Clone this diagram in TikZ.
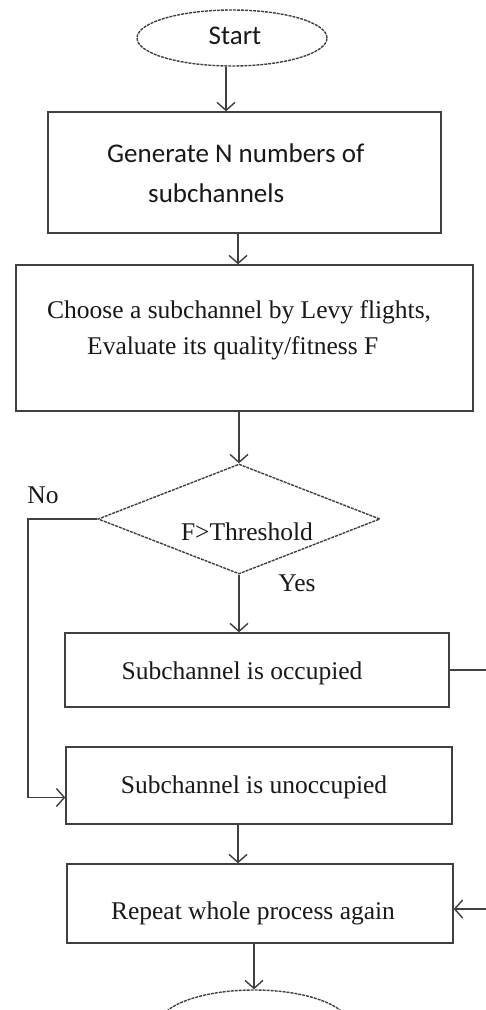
\documentclass[tikz,border=0pt]{standalone}
\usepackage{fontspec}
\setmainfont{Liberation Serif}
\newfontfamily\calib{Carlito}
\usetikzlibrary{shapes.geometric,arrows.meta,calc}
\tikzset{
  lc/.style={draw=black!75, line width=1.4pt},
  boxnode/.style={lc, rectangle, inner sep=0pt},
  arr/.style={lc, -{Straight Barb[length=8pt,width=18pt,line width=1.4pt]}},
  txt/.style={font=\fontsize{25.5}{30}\selectfont, text=black!90, inner sep=0pt},
  ctxt/.style={font=\calib\fontsize{27}{31}\selectfont, text=black!90, inner sep=0pt},
  dsh/.style={dash pattern=on 3pt off 1pt},
}
\begin{document}
\begin{tikzpicture}[x=1pt,y=-1pt]
\clip (0,0) rectangle (486,1010);
\fill[white] (0,0) rectangle (486,1010);
% nodes
\node[lc, dsh, ellipse, minimum width=190pt, minimum height=56pt, inner sep=0pt] (start) at (232,38) {};
\node[ctxt] (starttxt) at (235,36) {Start};
\node[boxnode, minimum width=393pt, minimum height=121pt] (b1) at (244.5,172.5) {};
\node[ctxt, anchor=west] (b1a) at (107,153) {Generate N numbers of};
\node[ctxt, anchor=west] (b1b) at (148,193) {subchannels};
\node[boxnode, minimum width=457pt, minimum height=146pt] (b2) at (244.5,338) {};
\node[txt, anchor=west] (b2a) at (47,312) {Choose a subchannel by Levy flights,};
\node[txt, anchor=west] (b2b) at (87,348) {Evaluate its quality/fitness F};
\node[lc, dsh, diamond, minimum width=282pt, minimum height=110pt, inner sep=0pt] (dec) at (239,519) {};
\node[txt] (dectxt) at (247,532) {F>Threshold};
\node[txt] (no) at (43,495) {No};
\node[txt] (yes) at (297,583) {Yes};
\node[boxnode, minimum width=384pt, minimum height=74pt] (b3) at (257,670) {};
\node[txt] (b3t) at (242,673) {Subchannel is occupied};
\node[boxnode, minimum width=386pt, minimum height=77pt] (b4) at (259,785.5) {};
\node[txt] (b4t) at (254,787) {Subchannel is unoccupied};
\node[boxnode, minimum width=386pt, minimum height=79pt] (b5) at (260,903.5) {};
\node[txt] (b5t) at (253,913) {Repeat whole process again};
\node[lc, dsh, ellipse, minimum width=190pt, minimum height=70pt, inner sep=0pt] (stop) at (254,1025) {};
\coordinate (rt) at (495,670);
\coordinate (no1) at (28,519);
% connectors
\draw[arr] ([xshift=-6pt]start.south) -- ([xshift=-6pt]start.south |- b1.north);
\draw[arr] ([xshift=-6.5pt]b1.south) -- ([xshift=-6.5pt]b1.south |- b2.north);
\draw[arr] (dec.north |- b2.south) -- (dec.north);
\draw[arr] (dec.south) -- (dec.south |- b3.north);
\draw[arr] (dec.west) -- (no1) |- ([yshift=-12pt]b4.west);
\draw[arr] ([xshift=-21pt]b4.south) -- ([xshift=-21pt]b4.south |- b5.north);
\draw[arr] ([xshift=-6pt]b5.south) -- ([xshift=-6pt]b5.south |- stop.north);
\draw[arr] (b3.east |- rt) -- (rt) |- ([yshift=-5.5pt]b5.east);
\end{tikzpicture}
\end{document}
